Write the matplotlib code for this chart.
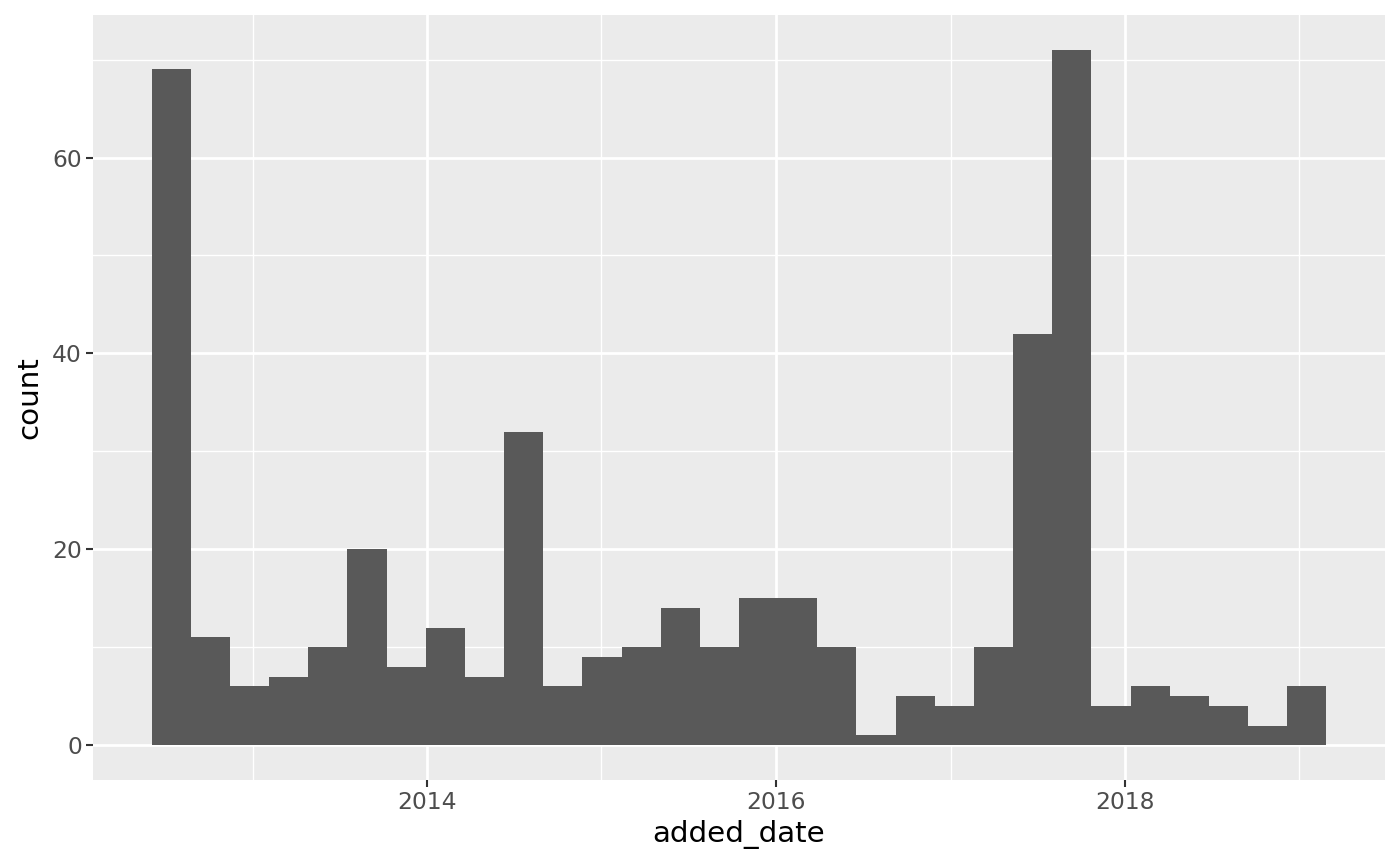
import numpy as np
import matplotlib
matplotlib.use("Agg")
import matplotlib.pyplot as plt
import matplotlib.dates as mdates

# Data
bin_start = "2012-06-03"
bin_width_days = 82
counts = [69, 11, 6, 7, 10, 20, 8, 12, 7, 32, 6, 9, 10, 14, 10,
          15, 15, 10, 1, 5, 4, 10, 42, 71, 4, 6, 5, 4, 2, 6]
major_years = [2014, 2016, 2018]
minor_years = [2013, 2015, 2017, 2019]
y_ticks = [0, 20, 40, 60]
y_minor = [10, 30, 50, 70]
x_label = "added_date"
y_label = "count"

start_num = mdates.datestr2num(bin_start)
edges = start_num + np.arange(len(counts) + 1) * bin_width_days

fig = plt.figure(figsize=(14, 8.65), dpi=100)
ax = fig.add_axes([93/1400, (865-780)/865, (1385-93)/1400, (780-15)/865])
ax.set_facecolor("#EBEBEB")

ax.bar(edges[:-1], counts, width=bin_width_days, align="edge",
       color="#595959", linewidth=0, zorder=3)

# limits with ggplot-like 5% expansion
xr = edges[-1] - edges[0]
ax.set_xlim(edges[0] - 0.05 * xr, edges[-1] + 0.05 * xr)
ymax = max(counts)
ax.set_ylim(-0.05 * ymax, ymax * 1.05)

major_pos = [mdates.datestr2num(f"{y}-01-01") for y in major_years]
minor_pos = [mdates.datestr2num(f"{y}-01-01") for y in minor_years]
ax.set_xticks(major_pos)
ax.set_xticklabels([str(y) for y in major_years])
ax.set_xticks(minor_pos, minor=True)
ax.set_yticks(y_ticks)
ax.set_yticklabels([str(v) for v in y_ticks])
ax.set_yticks(y_minor, minor=True)

ax.grid(which="major", color="white", linewidth=2.0, zorder=1)
ax.grid(which="minor", color="white", linewidth=1.0, zorder=1)
ax.set_axisbelow(True)

for s in ax.spines.values():
    s.set_visible(False)

ax.tick_params(which="major", length=5, width=1.5, color="#333333",
               labelcolor="#4D4D4D", labelsize=16.8, pad=3)
ax.tick_params(which="minor", length=0)

ax.set_xlabel(x_label, fontsize=21.2, color="black", labelpad=4)
ax.set_ylabel(y_label, fontsize=21.2, color="black", labelpad=6)

fig.savefig("out.png", dpi=100)
